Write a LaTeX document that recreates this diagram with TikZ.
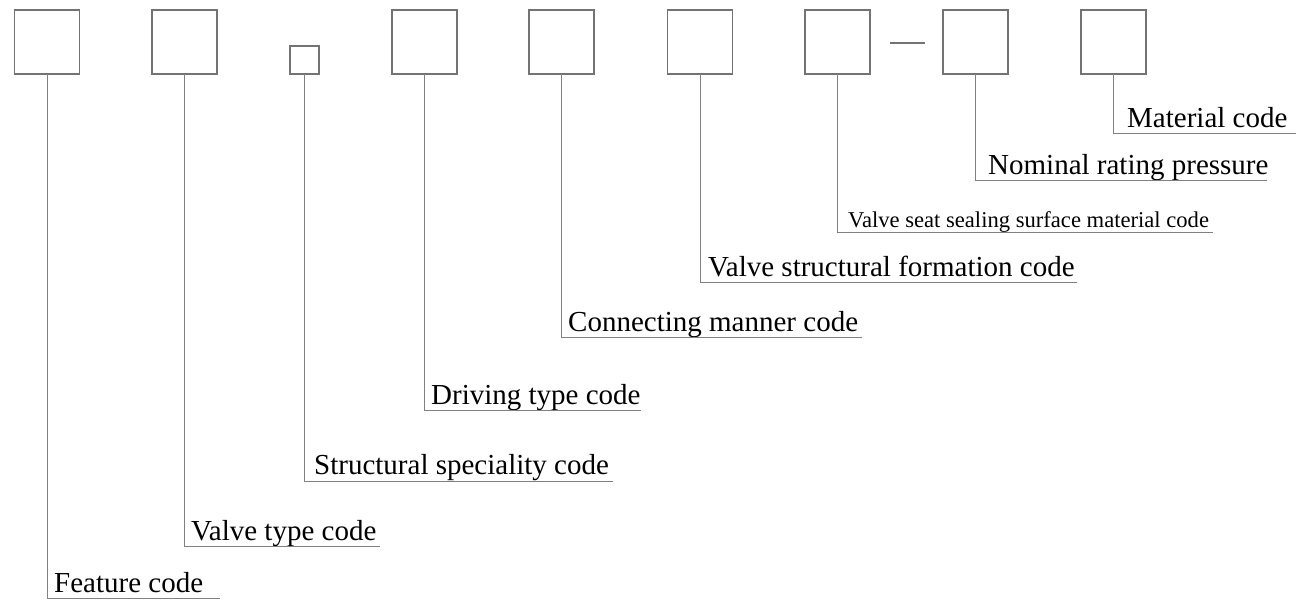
\documentclass[tikz,border=0pt]{standalone}
\usepackage{fontspec}
\setmainfont{Liberation Serif}
\begin{document}
\begin{tikzpicture}[x=1pt,y=-1pt,
  codebox/.style={draw=black!55, line width=1.2pt, inner sep=0pt, outer sep=0pt, minimum width=65pt, minimum height=64pt},
  smallbox/.style={draw=black!55, line width=1.2pt, inner sep=0pt, outer sep=0pt, minimum width=29pt, minimum height=28pt},
  conn/.style={draw=black!50, line width=1pt},
  lbl/.style={anchor=base west, inner sep=0pt, text=black, font=\fontsize{29}{34}\selectfont},
  slbl/.style={anchor=base west, inner sep=0pt, text=black, font=\fontsize{22.6}{27}\selectfont}]
\useasboundingbox (0,0) rectangle (1296,601);
\fill[white] (0,0) rectangle (1296,601);
% boxes
\node[codebox] (b1) at (47,42) {};
\node[codebox] (b2) at (184.5,42) {};
\node[smallbox] (b3) at (304.5,60) {};
\node[codebox] (b4) at (424.5,42) {};
\node[codebox] (b5) at (561.5,42) {};
\node[codebox] (b6) at (700,42) {};
\node[codebox] (b7) at (837.5,42) {};
\node[codebox] (b8) at (975.5,42) {};
\node[codebox] (b9) at (1113.5,42) {};
% dash between b7 and b8
\coordinate (d1) at (890,43);
\coordinate (d2) at (925,43);
\draw[draw=black!55, line width=1.2pt] (d1) -- (d2);
% labels
\node[lbl] (l9) at (1127,128) {Material code};
\node[lbl] (l8) at (988,175) {Nominal rating pressure};
\node[slbl] (l7) at (848,228) {Valve seat sealing surface material code};
\node[lbl] (l6) at (708,277) {Valve structural formation code};
\node[lbl] (l5) at (568,332) {Connecting manner code};
\node[lbl] (l4) at (431,405) {Driving type code};
\node[lbl] (l3) at (314,475) {Structural speciality code};
\node[lbl] (l2) at (191,540) {Valve type code};
\node[lbl] (l1) at (54,592) {Feature code};
% line ends
\coordinate (e9) at (1296,134);
\coordinate (e8) at (1267,181);
\coordinate (e7) at (1213,233);
\coordinate (e6) at (1077,283);
\coordinate (e5) at (862,338);
\coordinate (e4) at (641,411);
\coordinate (e3) at (613,481);
\coordinate (e2) at (380,546);
\coordinate (e1) at (220,598);
% connectors
\draw[conn] (b1.south) |- (e1);
\draw[conn] (b2.south) |- (e2);
\draw[conn] (b3.south) |- (e3);
\draw[conn] (b4.south) |- (e4);
\draw[conn] (b5.south) |- (e5);
\draw[conn] (b6.south) |- (e6);
\draw[conn] (b7.south) |- (e7);
\draw[conn] (b8.south) |- (e8);
\draw[conn] (b9.south) |- (e9);
\end{tikzpicture}
\end{document}
